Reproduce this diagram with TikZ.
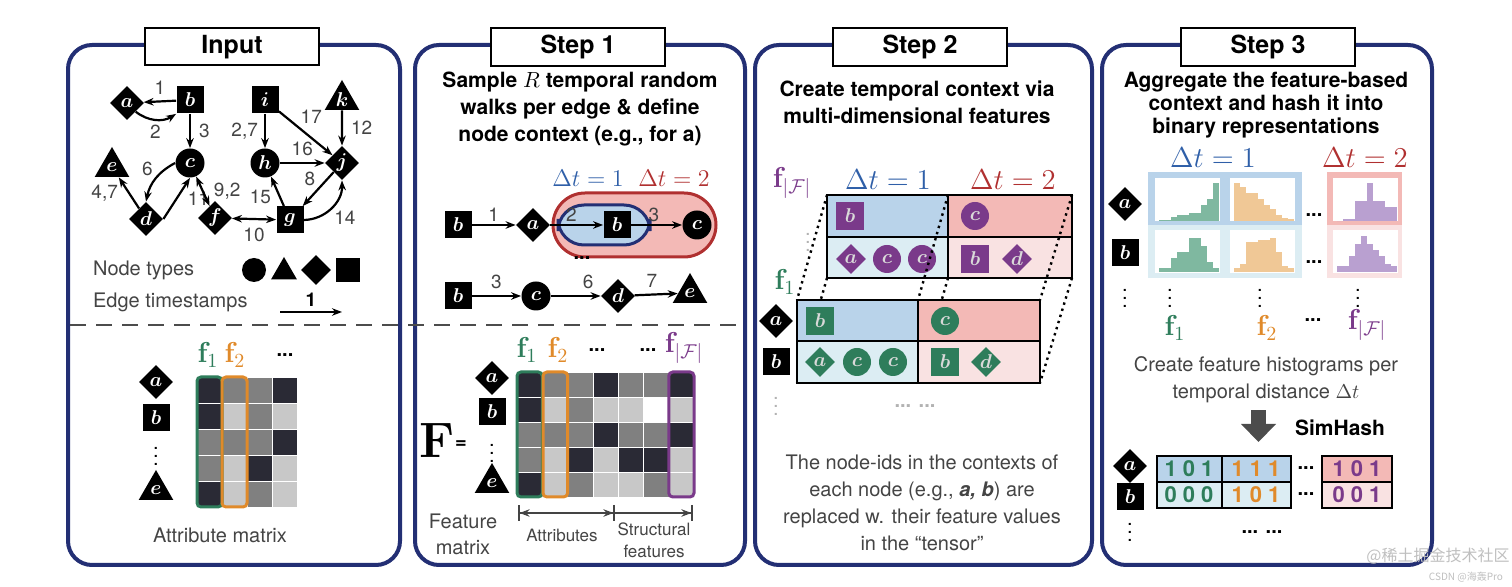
\documentclass[tikz,border=0pt]{standalone}
\usepackage{amsmath,bm}
\usepackage[no-math]{fontspec}
\setmainfont{TeX Gyre Heros}
\newfontfamily\cjkf{Noto Sans CJK SC}
\usetikzlibrary{shapes.geometric,arrows.meta}
\definecolor{frame}{HTML}{232F74}
\definecolor{dtblue}{HTML}{2F5FA8}
\definecolor{dtred}{HTML}{B03030}
\definecolor{fgreen}{HTML}{2E7D5B}
\definecolor{forange}{HTML}{E08A2A}
\definecolor{fpurple}{HTML}{7A3A8A}
\definecolor{bblue}{HTML}{B9D3EA}
\definecolor{lblue}{HTML}{DCEDF3}
\definecolor{bred}{HTML}{F3B9B6}
\definecolor{lred}{HTML}{F9E2E2}
\definecolor{cD}{HTML}{2A2A35}
\definecolor{cM}{HTML}{808080}
\definecolor{cL}{HTML}{C8C8C8}
\definecolor{cW}{HTML}{FFFFFF}
\definecolor{txt}{HTML}{444444}
\definecolor{hg}{HTML}{7FB8A0}
\definecolor{ho}{HTML}{F0C896}
\definecolor{hp}{HTML}{B9A0D0}
\newcommand\myhist[4]{\foreach \h [count=\i] in {#4} \fill[#3] ({#1+(\i-1)*6},#2) rectangle ++(6,{-\h});}
\begin{document}
\begin{tikzpicture}[x=0.5pt,y=-0.5pt,
  blk/.style={fill=black,text=white,inner sep=0pt,font=\normalsize},
  sq/.style={blk,rectangle,minimum size=13.5pt},
  ci/.style={blk,circle,minimum size=14.5pt},
  di/.style={blk,diamond,minimum size=17pt},
  tri/.style={blk,regular polygon,regular polygon sides=3,minimum size=20pt},
  ar/.style={-{Stealth[length=5pt]},line width=1.1pt},
  bar/.style={{Stealth[length=5pt]}-{Stealth[length=5pt]},line width=1.1pt},
  lbl/.style={text=txt,font=\fontsize{9.5}{11}\selectfont,inner sep=1pt},
  panel/.style={draw=frame,line width=2pt,rounded corners=12pt},
  ttl/.style={draw=black,line width=1pt,fill=white,minimum width=87pt,minimum height=18pt,font=\fontsize{12.5}{14}\selectfont\bfseries},
  head/.style={align=center,font=\fontsize{10.5}{13.5}\selectfont\bfseries},
  body/.style={align=center,text=txt,font=\fontsize{10}{13.5}\selectfont},
  dt/.style={font=\fontsize{14}{16}\selectfont}]
\useasboundingbox (0,0) rectangle (1512,587);
% panels
\draw[panel] (68,45) rectangle (400,565);
\draw[panel] (415,45) rectangle (745,565);
\draw[panel] (755,45) rectangle (1092,565);
\draw[panel] (1102,45) rectangle (1432,565);
\node[ttl] (t1) at (232,47) {Input};
\node[ttl] (t2) at (578,47) {Step 1};
\node[ttl] (t3) at (920,47) {Step 2};
\node[ttl] (t4) at (1268,47) {Step 3};
\draw[gray!60!black,line width=1pt,dash pattern=on 8pt off 5pt] (70,325) -- (743,325);

% ---------- Input graph
\node[di] (a) at (127,103) {$\bm a$};
\node[sq] (b) at (190,100) {$\bm b$};
\node[ci] (c) at (190,163) {$\bm c$};
\node[tri] (e) at (112,167) {$\bm e$};
\node[di] (d) at (146,219) {$\bm d$};
\node[di] (f) at (215,218) {$\bm f$};
\node[sq] (g) at (290,220) {$\bm g$};
\node[ci] (h) at (265,163) {$\bm h$};
\node[sq] (i) at (265,100) {$\bm i$};
\node[di] (j) at (342,163) {$\bm j$};
\node[tri] (k) at (342,100) {$\bm k$};
\draw[ar] (b) -- (a) node[lbl,midway,above=2pt] {1};
\draw[ar] (a.south east) to[bend right=35] node[lbl,below=1pt] {2} (b.south west);
\draw[ar] (b) -- (c) node[lbl,midway,right=3pt] {3};
\draw[ar] (c.west) to[bend right=25] node[lbl,above left=0pt] {6} (d.north);
\draw[ar] (d.east) -- node[lbl,right=4pt] {11} (c.south);
\draw[ar] (d) -- node[lbl,left=4pt] {4,7} (e);
\draw[bar] (c) -- node[lbl,right=4pt] {9,2} (f);
\draw[bar] (f) -- node[lbl,below=3pt] {10} (g);
\draw[ar] (g) -- node[lbl,left=3pt,pos=0.3] {15} (h);
\draw[ar] (h) -- node[lbl,above=2pt] {16} (j);
\draw[ar] (i) -- node[lbl,left=2pt] {2,7} (h);
\draw[ar] (i) -- node[lbl,above right=0pt,pos=0.35] {17} (j);
\draw[ar] (k) -- node[lbl,right=3pt] {12} (j);
\draw[ar] (j) -- node[lbl,above left=0pt] {8} (g);
\draw[ar] (g.east) to[bend right=45] node[lbl,below right=0pt] {14} (j.south);
\node[body,anchor=west] (nt) at (86,270) {Node types};
\node[body,anchor=west] (et) at (86,302) {Edge timestamps};
\node[ci,minimum size=12pt] (l1) at (254,270) {};
\node[tri,minimum size=15pt] (l2) at (284,272) {};
\node[di,minimum size=15pt] (l3) at (316,270) {};
\node[sq,minimum size=12pt] (l4) at (348,270) {};
\coordinate (e1) at (280,312); \coordinate (e2) at (342,312);
\draw[ar] (e1) -- node[above=-1pt,font=\fontsize{9.5}{11}\selectfont\bfseries] {1} (e2);

% attribute matrix
\node[di] (ma) at (156,382) {$\bm a$};
\node[sq] (mb) at (156,418) {$\bm b$};
\node (md) at (156,450) {$\vdots$};
\node[tri] (me) at (156,490) {$\bm e$};
\foreach \row [count=\r] in {{cD,cM,cM,cD},{cD,cL,cM,cL},{cM,cM,cM,cD},{cM,cL,cD,cL},{cD,cL,cM,cL}}
  \foreach \cc [count=\c] in \row
    \fill[\cc,draw=white,line width=0.3pt] ({197+(\c-1)*25},{377+(\r-1)*26}) rectangle ++(25,26);
\draw[fgreen,line width=1.5pt,rounded corners=2pt] (197,377) rectangle (222,507);
\draw[forange,line width=1.5pt,rounded corners=2pt] (222,377) rectangle (247,507);
\node[text=fgreen,dt] (af1) at (208,355) {$\mathbf f_1$};
\node[text=forange,dt] (af2) at (235,355) {$\mathbf f_2$};
\node[font=\bfseries] (adots) at (285,355) {...};
\node[body] (am) at (220,535) {Attribute matrix};

% ---------- Step 1
\node[head] (h1) at (580,109) {Sample $R$ temporal random\\walks per edge \& define\\node context (e.g., for a)};
\fill[bred,draw=dtred,line width=1.5pt,rounded corners=16pt] (553,193) rectangle (716,257);
\fill[bblue,draw=frame,line width=1.5pt,rounded corners=13pt] (558,205) rectangle (650,245);
\node[text=dtblue,font=\fontsize{13}{15}\selectfont] (d1) at (588,178) {$\Delta t=1$};
\node[text=dtred,font=\fontsize{13}{15}\selectfont] (d2) at (674,178) {$\Delta t=2$};
\node[sq] (w1) at (458,225) {$\bm b$};
\node[di] (w2) at (533,225) {$\bm a$};
\node[sq] (w3) at (617,225) {$\bm b$};
\node[ci] (w4) at (697,225) {$\bm c$};
\draw[ar] (w1) -- node[lbl,above=0pt] {1} (w2);
\draw[ar] (w2) -- node[lbl,above=0pt,pos=0.4] {2} (w3);
\draw[ar] (w3) -- node[lbl,above=0pt,pos=0.45] {3} (w4);
\node[font=\bfseries] (wd) at (582,258) {...};
\node[sq] (v1) at (458,296) {$\bm b$};
\node[ci] (v2) at (536,296) {$\bm c$};
\node[di] (v3) at (618,296) {$\bm d$};
\node[tri] (v4) at (690,293) {$\bm e$};
\draw[ar] (v1) -- node[lbl,above=2pt] {3} (v2);
\draw[ar] (v2) -- node[lbl,above=2pt,pos=0.75] {6} (v3);
\draw[ar] (v3) -- node[lbl,above=2pt,pos=0.4] {7} (v4);
% feature matrix
\node[font=\fontsize{24}{26}\selectfont] (FF) at (437,440) {$\mathbf F$};
\node[font=\bfseries] (Feq) at (461,445) {=};
\node[di] (fa) at (492,378) {$\bm a$};
\node[sq] (fb) at (492,412) {$\bm b$};
\node (fd) at (492,447) {$\vdots$};
\node[tri] (fe) at (492,483) {$\bm e$};
\foreach \row [count=\r] in {{cD,cM,cM,cD,cM,cM,cD},{cD,cL,cM,cL,cL,cW,cL},{cM,cM,cM,cD,cM,cM,cD},{cM,cL,cD,cL,cD,cD,cL},{cD,cL,cM,cL,cL,cM,cL}}
  \foreach \cc [count=\c] in \row
    \fill[\cc,draw=white,line width=0.3pt] ({517+(\c-1)*25.3},{372+(\r-1)*25}) rectangle ++(25.3,25);
\draw[fgreen,line width=1.5pt,rounded corners=2pt] (517,372) rectangle (542.3,497);
\draw[forange,line width=1.5pt,rounded corners=2pt] (543,372) rectangle (567.6,497);
\draw[fpurple,line width=1.5pt,rounded corners=2pt] (668.8,372) rectangle (694,497);
\node[text=fgreen,dt] (g1) at (527,350) {$\mathbf f_1$};
\node[text=forange,dt] (g2) at (558,350) {$\mathbf f_2$};
\node[font=\bfseries] (gd1) at (597,350) {...};
\node[font=\bfseries] (gd2) at (648,350) {...};
\node[text=fpurple,dt] (g3) at (684,348) {$\mathbf f_{|\mathcal F|}$};
\coordinate (br1) at (518,513); \coordinate (br2) at (615,513); \coordinate (br3) at (693,513);
\draw[txt,line width=0.8pt,{Bar[width=8pt]Stealth[length=5pt]}-{Stealth[length=5pt]Bar[width=8pt]}] (br1) -- (br2);
\draw[txt,line width=0.8pt,-{Stealth[length=5pt]Bar[width=8pt]}] (br2) -- (br3);
\node[body,font=\fontsize{8.5}{11}\selectfont] (attr) at (562,535) {Attributes};
\node[body,font=\fontsize{8.5}{11}\selectfont] (str) at (654,540) {Structural\\features};
\node[body,font=\fontsize{10}{13}\selectfont] (fm) at (463,534) {Feature\\matrix};

% ---------- Step 2
\node[head] (h2) at (917,102) {Create temporal context via\\multi-dimensional features};
\node[text=fpurple,dt] (bp) at (792,183) {$\mathbf f_{|\mathcal F|}$};
\node[text=dtblue,dt] (bd1) at (888,180) {$\Delta t=1$};
\node[text=dtred,dt] (bd2) at (1013,180) {$\Delta t=2$};
\fill[bblue] (827,195) rectangle (948,237); \fill[bred] (948,195) rectangle (1072,237);
\fill[lblue] (827,237) rectangle (948,278); \fill[lred] (948,237) rectangle (1072,278);
\draw[line width=1pt] (827,195) rectangle (1072,278) (948,195)--(948,278) (827,237)--(1072,237);
\tikzset{ps/.style={fill=fpurple,text=black!15},gs/.style={fill=fgreen,text=black!15}}
\node[sq,ps,minimum size=14pt] (p1) at (850,216) {$\bm b$};
\node[ci,ps,minimum size=14pt] (p2) at (975,216) {$\bm c$};
\node[di,ps,minimum size=15pt] (p3) at (851,259) {$\bm a$};
\node[ci,ps,minimum size=14pt] (p4) at (887,259) {$\bm c$};
\node[ci,ps,minimum size=14pt] (p5) at (922,259) {$\bm c$};
\node[sq,ps,minimum size=14pt] (p6) at (975,259) {$\bm b$};
\node[di,ps,minimum size=15pt] (p7) at (1017,259) {$\bm d$};
\node[text=gray!60] (pv) at (808,236) {$\vdots$};
\draw[line width=1.2pt,dotted] (827,195) -- (797,300) (948,195) -- (918,300) (1072,195) -- (1040,300)
  (827,278) -- (797,383) (948,278) -- (918,383) (1072,278) -- (1040,383);
\node[text=fgreen,dt] (fg1) at (785,282) {$\mathbf f_1$};
\fill[bblue] (797,300) rectangle (918,341); \fill[bred] (918,300) rectangle (1040,341);
\fill[lblue] (797,341) rectangle (918,383); \fill[lred] (918,341) rectangle (1040,383);
\draw[line width=1pt] (797,300) rectangle (1040,383) (918,300)--(918,383) (797,341)--(1040,341);
\node[sq,gs,minimum size=14pt] (q1) at (820,321) {$\bm b$};
\node[ci,gs,minimum size=14pt] (q2) at (945,321) {$\bm c$};
\node[di,gs,minimum size=15pt] (q3) at (820,362) {$\bm a$};
\node[ci,gs,minimum size=14pt] (q4) at (857,362) {$\bm c$};
\node[ci,gs,minimum size=14pt] (q5) at (893,362) {$\bm c$};
\node[sq,gs,minimum size=14pt] (q6) at (945,362) {$\bm b$};
\node[di,gs,minimum size=15pt] (q7) at (986,362) {$\bm d$};
\node[di] (sa) at (776,321) {$\bm a$};
\node[sq] (sb) at (776,362) {$\bm b$};
\node[text=gray!60] (sv) at (776,400) {$\vdots$};
\node[text=gray!60,font=\bfseries] (sd) at (915,406) {... ...};
\node[body] (t3b) at (922,503) {The node-ids in the contexts of\\each node (e.g., {\bfseries\itshape a, b}) are\\replaced w. their feature values\\in the “tensor”};

% ---------- Step 3
\node[head,font=\fontsize{10.5}{11.5}\selectfont\bfseries] (h3) at (1266,105) {Aggregate the feature-based\\context and hash it into\\binary representations};
\node[text=dtblue,dt] (hd1) at (1213,158) {$\Delta t=1$};
\node[text=dtred,dt] (hd2) at (1365,158) {$\Delta t=2$};
\fill[bblue] (1148,172) rectangle (1302,225); \fill[lblue] (1148,225) rectangle (1302,278);
\fill[bred] (1327,172) rectangle (1402,225); \fill[lred] (1327,225) rectangle (1402,278);
\foreach \x in {1155,1230,1333} \foreach \y in {178,230} \fill[white] (\x,\y) rectangle ++(65,43);
\myhist{1159}{221}{hg}{1,1,4,6,6,8,8,16,22,38}
\myhist{1234}{221}{ho}{38,34,28,28,22,16,12,6,3,2}
\myhist{1337}{221}{hp}{0,2,2,20,20,38,20,20,14,14}
\myhist{1159}{272}{hg}{4,4,14,20,20,34,34,26,10,4}
\myhist{1234}{272}{ho}{4,8,30,30,32,32,34,20,6,4}
\myhist{1337}{272}{hp}{6,6,16,28,36,28,22,16,8,6}
\node[di] (ha) at (1125,204) {$\bm a$};
\node[sq] (hb) at (1125,253) {$\bm b$};
\node (hv) at (1125,292) {$\vdots$};
\node[font=\bfseries] (hx1) at (1314,215) {...};
\node[font=\bfseries] (hx2) at (1314,262) {...};
\node (hv1) at (1170,292) {$\vdots$};
\node (hv2) at (1260,292) {$\vdots$};
\node (hv3) at (1358,292) {$\vdots$};
\node[text=fgreen,dt] (hf1) at (1175,328) {$\mathbf f_1$};
\node[text=forange,dt] (hf2) at (1267,328) {$\mathbf f_2$};
\node[font=\bfseries] (hfd) at (1313,320) {...};
\node[text=fpurple,dt] (hf3) at (1367,325) {$\mathbf f_{|\mathcal F|}$};
\node[body] (t4b) at (1266,380) {Create feature histograms per\\temporal distance $\Delta t$};
\fill[black!70] (1251,410) rectangle (1266,424);
\fill[black!70] (1241,424) -- (1276,424) -- (1258.5,442) -- cycle;
\node[font=\fontsize{10.5}{12}\selectfont\bfseries] (sh) at (1340,428) {SimHash};
\fill[bblue] (1157,456) rectangle (1291,482); \fill[lblue] (1157,482) rectangle (1291,508);
\fill[bred] (1322,456) rectangle (1392,482); \fill[lred] (1322,482) rectangle (1392,508);
\draw[line width=1pt] (1157,456) rectangle (1291,508) (1222,456)--(1222,508) (1157,482)--(1291,482);
\draw[line width=1pt] (1322,456) rectangle (1392,508) (1322,482)--(1392,482);
\tikzset{bn/.style={font=\fontsize{11}{12}\selectfont\bfseries}}
\node[bn,text=fgreen] (n1) at (1189,469) {1 0 1};
\node[bn,text=forange] (n2) at (1256,469) {1 1 1};
\node[bn,text=fgreen] (n3) at (1189,495) {0 0 0};
\node[bn,text=forange] (n4) at (1256,495) {1 0 1};
\node[bn,text=fpurple] (n5) at (1357,469) {1 0 1};
\node[bn,text=fpurple] (n6) at (1357,495) {0 0 1};
\node[font=\bfseries] (nd1) at (1306,468) {...};
\node[font=\bfseries] (nd2) at (1306,494) {...};
\node[di] (na) at (1130,466) {$\bm a$};
\node[sq] (nb) at (1130,497) {$\bm b$};
\node (nv) at (1130,526) {$\vdots$};
\node[font=\bfseries] (ndd) at (1262,532) {... ...};
\node[text=gray!50,font=\cjkf\fontsize{8}{9}\selectfont] (wm1) at (1438,556) {@稀土掘金技术社区};
\node[text=gray!50,font=\cjkf\fontsize{5}{6}\selectfont] (wm2) at (1466,577) {CSDN @海轰Pro};
\end{tikzpicture}
\end{document}
